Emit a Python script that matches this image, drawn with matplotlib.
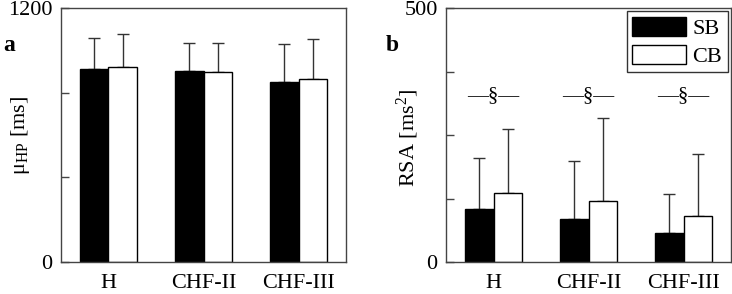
import matplotlib
matplotlib.use("Agg")
import matplotlib.pyplot as plt
import numpy as np
from matplotlib.patches import Patch

plt.rcParams['font.family'] = ['Liberation Serif', 'DejaVu Serif']
plt.rcParams['mathtext.fontset'] = 'custom'
plt.rcParams['mathtext.rm'] = 'Liberation Serif'
plt.rcParams['mathtext.it'] = 'Liberation Serif:italic'

categories = ["H", "CHF-II", "CHF-III"]
series = ["SB", "CB"]
hp_sb = [912, 902, 849]
hp_sb_err = [148, 131, 179]
hp_cb = [920, 898, 866]
hp_cb_err = [155, 137, 189]
rsa_sb = [104, 85, 57]
rsa_sb_err = [100, 113, 76]
rsa_cb = [136, 121, 91]
rsa_cb_err = [126, 162, 121]
sig_level = 327

fig = plt.figure(figsize=(7.32, 2.94), dpi=100)
W, H = 732, 294
axa = fig.add_axes([61 / W, 1 - 262 / H, 285 / W, 254 / H])
axb = fig.add_axes([446 / W, 1 - 262 / H, 285 / W, 254 / H])

x = np.arange(1, len(categories) + 1)
bw = 0.3
spine_col = '#444444'
fs = 16

def draw(ax, sb, sbe, cb, cbe, ymax, ticks):
    ax.bar(x - bw / 2, sb, bw, color='black', edgecolor='black', linewidth=1, zorder=2)
    ax.bar(x + bw / 2, cb, bw, color='white', edgecolor='black', linewidth=1, zorder=2)
    ax.errorbar(x - bw / 2, sb, yerr=[np.zeros(3), sbe], fmt='none', ecolor='#333333',
                elinewidth=1, capsize=4, capthick=1, zorder=1)
    ax.errorbar(x + bw / 2, cb, yerr=[np.zeros(3), cbe], fmt='none', ecolor='#333333',
                elinewidth=1, capsize=4, capthick=1, zorder=1)
    ax.set_xlim(0.5, 3.5)
    ax.set_ylim(0, ymax)
    ax.set_xticks(x)
    ax.set_xticklabels(categories, fontsize=fs)
    ax.tick_params(axis='x', length=0, pad=9)
    ax.set_yticks(ticks)
    ax.set_yticklabels([str(t) if t in (0, ymax) else '' for t in ticks], fontsize=fs)
    ax.tick_params(axis='y', direction='in', length=6, width=1, color=spine_col, pad=6)
    for s in ax.spines.values():
        s.set_color(spine_col)
        s.set_linewidth(1)

draw(axa, hp_sb, hp_sb_err, hp_cb, hp_cb_err, 1200, [0, 400, 800, 1200])
draw(axb, rsa_sb, rsa_sb_err, rsa_cb, rsa_cb_err, 500, [0, 125, 250, 375, 500])

axa.set_ylabel('\u03bc$_{\\mathrm{HP}}$ [ms]', fontsize=fs)
axa.yaxis.set_label_coords(-0.10, 0.5)
axb.set_ylabel(r'RSA [ms$^{2}$]', fontsize=fs)
axb.yaxis.set_label_coords(-0.088, 0.49)

for xi in x:
    axb.text(xi, sig_level, '\u2014\u00a7\u2014', ha='center', va='center', fontsize=15)

leg = axb.legend(handles=[Patch(facecolor='black', edgecolor='black'),
                          Patch(facecolor='white', edgecolor='black')],
                 labels=series, loc='upper right', fontsize=fs, frameon=True,
                 fancybox=False, edgecolor='black', handlelength=2.4, handleheight=0.95,
                 borderaxespad=0.15, borderpad=0.25, labelspacing=0.25, handletextpad=0.3)
leg.get_frame().set_linewidth(1)

fig.text(3 / W, 1 - 45 / H, 'a', fontsize=17, fontweight='bold', va='center', ha='left')
fig.text(386 / W, 1 - 45 / H, 'b', fontsize=17, fontweight='bold', va='center', ha='left')

fig.savefig('out.png', dpi=100)
